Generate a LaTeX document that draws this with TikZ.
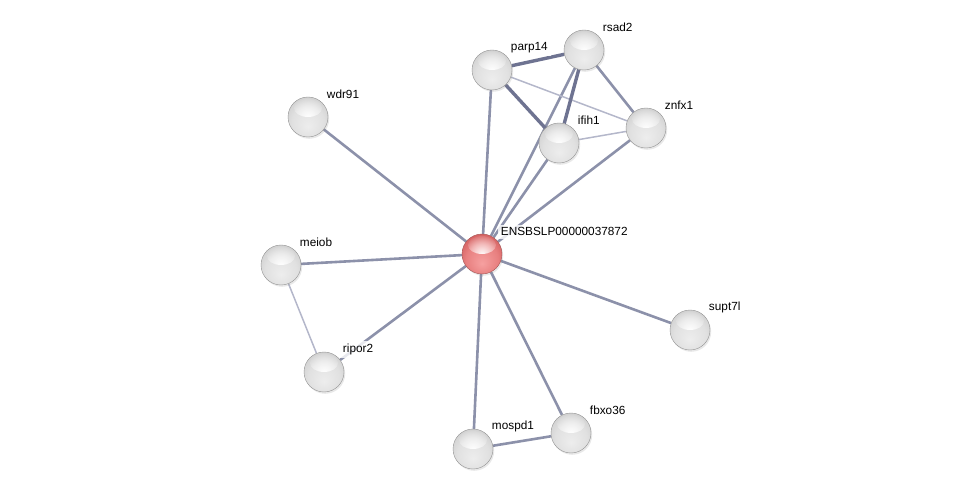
\documentclass[tikz,border=0pt]{standalone}
\usepackage{fontspec}
\setmainfont{Liberation Sans}
\usetikzlibrary{backgrounds,fadings,shadows}
\definecolor{edgecol}{RGB}{140,145,170}
\definecolor{strongcol}{RGB}{110,115,145}
\definecolor{weakcol}{RGB}{180,183,202}
\pgfdeclareradialshading{greysphere}{\pgfpoint{0bp}{-12bp}}{%
  color(0bp)=(black!7); color(20bp)=(black!12); color(30bp)=(black!18);
  color(40bp)=(black!34); color(50bp)=(black!56)}
\definecolor{redA}{RGB}{246,160,160}
\definecolor{redB}{RGB}{232,128,128}
\definecolor{redC}{RGB}{212,98,98}
\definecolor{redD}{RGB}{180,66,66}
\definecolor{redE}{RGB}{140,42,42}
\pgfdeclareradialshading{redsphere}{\pgfpoint{0bp}{-12bp}}{%
  color(0bp)=(redA); color(20bp)=(redB); color(30bp)=(redC);
  color(40bp)=(redD); color(50bp)=(redE)}
\tikzfading[name=glow, inner color=transparent!0, outer color=transparent!100]
\tikzset{
  prot/.style={circle, minimum size=40pt, inner sep=0pt, shading=greysphere,
    draw=black!42, line width=0.4pt,
    drop shadow={opacity=0.18, shadow xshift=1.2pt, shadow yshift=-1.8pt},
    path picture={\fill[white, opacity=0.95, path fading=glow]
      ([yshift=9pt]path picture bounding box.center) ellipse [x radius=14pt, y radius=9pt];}},
  query/.style={prot, shading=redsphere, draw=redE!80},
  lbl/.style={label={[anchor=west, xshift=1.5pt, yshift=8pt,
    inner sep=3pt, fill=white, fill opacity=0.8, text opacity=1,
    font=\fontsize{11.8}{13}\selectfont]45:#1}},
  edge/.style={line width=2.6pt, draw=edgecol},
  strong/.style={line width=3.4pt, draw=strongcol},
  weak/.style={line width=1.5pt, draw=weakcol}
}
\begin{document}
\begin{tikzpicture}[x=1pt, y=-1pt]
      \useasboundingbox (0,0) rectangle (975,494);
      \draw
        (482,254) node[query, lbl=ENSBSLP00000037872] (c){}
        (308,117) node[prot, lbl=wdr91] (wdr91){}
        (492,70) node[prot, lbl=parp14] (parp14){}
        (584,50) node[prot, lbl=rsad2] (rsad2){}
        (559,143) node[prot, lbl=ifih1] (ifih1){}
        (646,128) node[prot, lbl=znfx1] (znfx1){}
        (281,265) node[prot, lbl=meiob] (meiob){}
        (324,372) node[prot, lbl=ripor2] (ripor2){}
        (690,330) node[prot, lbl=supt7l] (supt7l){}
        (473,449) node[prot, lbl=mospd1] (mospd1){}
        (571,433) node[prot, lbl=fbxo36] (fbxo36){};
      \begin{scope}[on background layer]
        \draw[edge] (c) to (wdr91);
        \draw[edge] (c) to (parp14);
        \draw[edge] (c) to (rsad2);
        \draw[edge] (c) to (ifih1);
        \draw[edge] (c) to (znfx1);
        \draw[edge] (c) to (meiob);
        \draw[edge] (c) to (ripor2);
        \draw[edge] (c) to (supt7l);
        \draw[edge] (c) to (mospd1);
        \draw[edge] (c) to (fbxo36);
        \draw[strong] (parp14) to (rsad2);
        \draw[strong] (parp14) to (ifih1);
        \draw[weak] (parp14) to (znfx1);
        \draw[strong] (rsad2) to (ifih1);
        \draw[edge] (rsad2) to (znfx1);
        \draw[weak] (ifih1) to (znfx1);
        \draw[weak] (meiob) to (ripor2);
        \draw[edge] (mospd1) to (fbxo36);
      \end{scope}
    \end{tikzpicture}
\end{document}
